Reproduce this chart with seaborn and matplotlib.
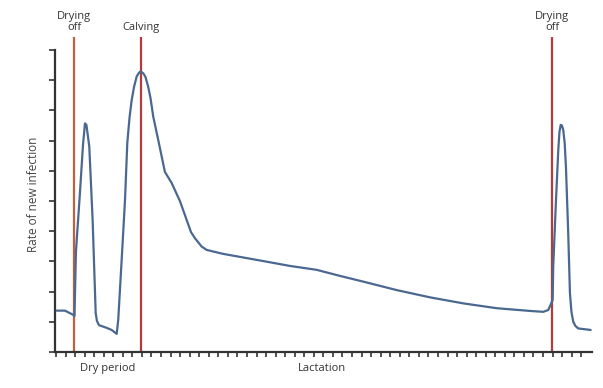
import matplotlib
matplotlib.use("Agg")
import matplotlib.pyplot as plt
import seaborn as sns
import pandas as pd
import numpy as np

# Curve data (x in tick units, y = relative rate of new infection)
x_vals = [0.07, 0.94, 1.81, 1.94, 2.09, 2.51, 2.83, 3.04, 3.19, 3.49, 3.84, 4.16, 4.29,
          4.50, 5.31, 5.83, 6.36, 6.52, 6.88, 7.23, 7.47, 7.70, 7.93, 8.17, 8.45,
          8.64, 8.80, 8.97, 9.16, 9.37, 9.66, 9.90, 10.19, 10.71,
          11.41, 12.11, 12.98, 13.69, 14.14, 14.55, 15.26, 15.78, 16.83, 17.49, 21.02,
          24.50, 27.30, 29.74, 32.18, 35.68, 39.16, 42.65, 46.15, 49.63, 51.03, 51.55,
          52.01, 52.07, 52.36, 52.60, 52.72, 52.85, 52.98, 53.12, 53.27, 53.40, 53.64,
          53.82, 53.98, 54.17, 54.40, 54.69, 55.99]
y_vals = [1.37, 1.37, 1.23, 1.19, 3.31, 5.26, 6.85, 7.57, 7.52, 6.80, 4.37, 1.29, 1.03,
          0.89, 0.80, 0.73, 0.60, 1.06, 3.05, 5.03, 6.92, 7.75, 8.34, 8.77, 9.12,
          9.22, 9.28, 9.27, 9.22, 9.11, 8.78, 8.41, 7.79, 7.02,
          5.96, 5.60, 5.00, 4.37, 3.97, 3.77, 3.49, 3.38, 3.30, 3.25, 3.05,
          2.85, 2.72, 2.52, 2.33, 2.05, 1.81, 1.61, 1.45, 1.36, 1.33, 1.39,
          1.72, 2.82, 5.03, 6.69, 7.28, 7.52, 7.50, 7.35, 6.92, 6.14, 3.94,
          1.95, 1.32, 1.00, 0.86, 0.78, 0.73]

event_x = [1.92, 8.87, 51.95]
event_labels = ["Drying\noff", "Calving", "Drying\noff"]
event_colors = ["#c0603f", "#b43b3b", "#b43b3b"]

x_ticks = list(range(0, 56))
y_ticks = list(range(0, 11))

period_x = [5.4, 27.8]
period_labels = ["Dry period", "Lactation"]

df = pd.DataFrame({"x": x_vals, "y": y_vals})

sns.set_theme(style="white")
plt.rcParams['font.family'] = ['Open Sans', 'DejaVu Sans']

fig = plt.figure(figsize=(6.03, 3.88), dpi=100)
W, H = 603, 388
ax = fig.add_axes([55 / W, (H - 352) / H, (592 - 55) / W, (352 - 37) / H])

ax.set_xlim(-0.1, 56.13)
ax.set_ylim(0, 10.43)

for xv, c in zip(event_x, event_colors):
    ax.vlines(xv, 0, 10.43, color=c, linewidth=1.6, zorder=2)

sns.lineplot(data=df, x="x", y="y", sort=False, ax=ax, color="#4a6890",
             linewidth=1.6, zorder=3)

for spine in ["top", "right"]:
    ax.spines[spine].set_visible(False)
for spine in ["left", "bottom"]:
    ax.spines[spine].set_color("#333333")
    ax.spines[spine].set_linewidth(1.6)
ax.spines["left"].set_bounds(0, 10)

ax.set_xticks(x_ticks)
ax.set_yticks(y_ticks)
ax.set_xticklabels([])
ax.set_yticklabels([])
ax.tick_params(axis="x", direction="out", length=3.5, width=1.2, color="#333333", bottom=True)
ax.tick_params(axis="y", direction="out", length=4, width=1.2, color="#333333", left=True)
ax.set_xlabel("")
ax.set_ylabel("Rate of new infection", fontsize=8.5, color="#444444", labelpad=3)

for xv, lab in zip(event_x, event_labels):
    ax.text(xv, 10.55, lab, ha="center", va="bottom", fontsize=8, color="#333333",
            linespacing=1.05, clip_on=False)

for xv, lab in zip(period_x, period_labels):
    ax.text(xv, -0.35, lab, ha="center", va="top", fontsize=8, color="#333333",
            clip_on=False)

fig.savefig("out.png", dpi=100)
